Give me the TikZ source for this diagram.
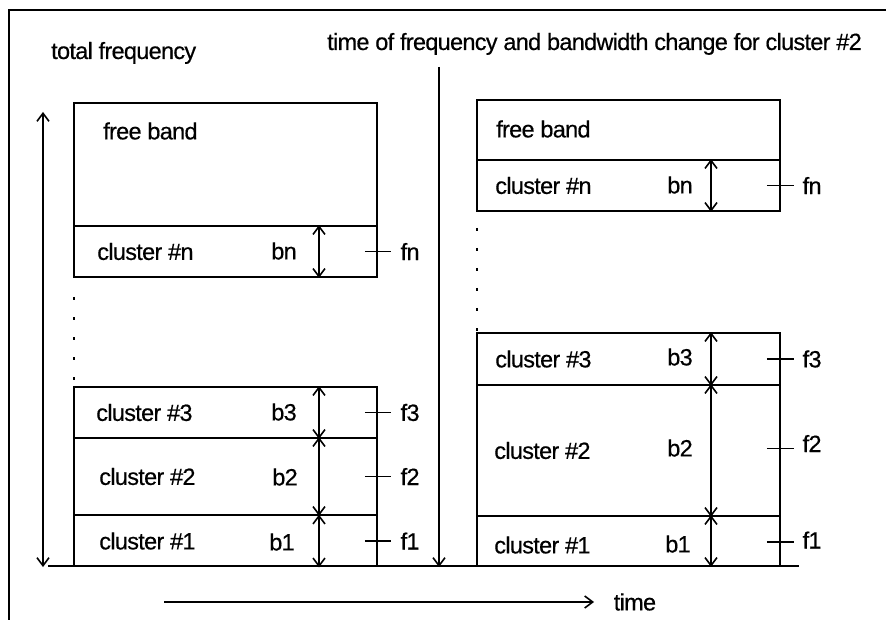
\documentclass[tikz,border=0pt]{standalone}
\usepackage{fontspec}
\setmainfont{Liberation Sans}[LetterSpace=-3, FakeBold=0.5]
\usetikzlibrary{arrows.meta,positioning}

\begin{document}
\begin{tikzpicture}[
  x=1pt, y=-1pt,
  font=\fontsize{23.5}{27}\selectfont,
  >={Straight Barb[length=8pt,width=12pt]},
  band/.style={rectangle, draw, line width=1.8pt, minimum width=303pt, inner sep=0pt},
  txt/.style={inner sep=0pt, anchor=west},
  blbl/.style={inner sep=0pt},
  bw/.style={<->, line width=1.6pt},
  tick/.style={line width=1.5pt},
  axis/.style={line width=1.6pt},
  dots/.style={line width=1.2pt, dash pattern=on 3pt off 17pt},
]
\useasboundingbox (0,0) rectangle (886,620);

% frame
\draw[line width=2.6pt] (9,620) -- (9,10) -- (886,10);

\node[anchor=base west, inner sep=0pt] (ttot) at (51,59) {total frequency};
\node[anchor=base west, inner sep=0pt] (tchg) at (327,50) {time of frequency and bandwidth change for cluster \#2};

% before the change
\node[band, minimum height=123pt] (lfree) at (225.5,164.5) {};
\node[band, minimum height=51pt]  (ln)    at (225.5,251.5) {};
\node[band, minimum height=51pt]  (l3)    at (225.5,412.5) {};
\node[band, minimum height=77pt]  (l2)    at (225.5,476.5) {};
\node[band, minimum height=51pt]  (l1)    at (225.5,541) {};

\node[txt] (lfreet) at (103,131) {free band};
\node[txt, right=24pt of ln.west] (lnt) {cluster \#n};
\node[txt, right=23pt of l3.west] (l3t) {cluster \#3};
\node[txt, right=26pt of l2.west] (l2t) {cluster \#2};
\node[txt, right=26pt of l1.west] (l1t) {cluster \#1};

\coordinate (bl) at (319,0);
\node[blbl] (lbn) at (284,251) {bn};
\node[blbl] (lb3) at (284,412) {b3};
\node[blbl] (lb2) at (285,477) {b2};
\node[blbl] (lb1) at (282,542) {b1};
\foreach \b in {ln,l3,l2,l1}
  \draw[bw] (bl |- \b.north) -- (bl |- \b.south);

\draw[tick] (ln.east) ++(-13,0) -- ++(26,0) node[txt, xshift=9pt] (lfn) {fn};
\draw[tick] (l3.east) ++(-13,0) -- ++(26,0) node[txt, xshift=9pt] (lf3) {f3};
\draw[tick] (l2.east) ++(-13,0) -- ++(26,0) node[txt, xshift=9pt] (lf2) {f2};
\draw[tick] (l1.east) ++(-13,0) -- ++(26,0) node[txt, xshift=9pt] (lf1) {f1};

\draw[dots] (74,297) -- (74,385);

% after the change
\node[band, minimum height=60pt]  (rfree) at (628.5,130) {};
\node[band, minimum height=51pt]  (rn)    at (628.5,185.5) {};
\node[band, minimum height=52pt]  (r3)    at (628.5,359) {};
\node[band, minimum height=131pt] (r2)    at (628.5,450.5) {};
\node[band, minimum height=50pt]  (r1)    at (628.5,541) {};

\node[txt] (rfreet) at (496,129) {free band};
\node[txt, right=19pt of rn.west] (rnt) {cluster \#n};
\node[txt, right=19pt of r3.west] (r3t) {cluster \#3};
\node[txt, right=18pt of r2.west] (r2t) {cluster \#2};
\node[txt, right=18pt of r1.west, yshift=-4pt] (r1t) {cluster \#1};

\coordinate (br) at (711,0);
\node[blbl] (rbn) at (680,185) {bn};
\node[blbl] (rb3) at (680,357) {b3};
\node[blbl] (rb2) at (680,448) {b2};
\node[blbl] (rb1) at (678,544) {b1};
\foreach \b in {rn,r3,r2,r1}
  \draw[bw] (br |- \b.north) -- (br |- \b.south);

\draw[tick] (rn.east) ++(-14,0) -- ++(27,0) node[txt, xshift=8pt] (rfn) {fn};
\draw[tick] (r3.east) ++(-14,0) -- ++(27,0) node[txt, xshift=8pt] (rf3) {f3};
\draw[tick] (r2.east) ++(-14,-2) -- ++(27,0) node[txt, xshift=8pt, yshift=5pt] (rf2) {f2};
\draw[tick] (r1.east) ++(-14,1) -- ++(27,0) node[txt, xshift=8pt, yshift=2pt] (rf1) {f1};

\draw[dots] (477,228) -- (477,333);

% axes
\coordinate (ftop) at (43,112);
\coordinate (fbot) at (43,567);
\draw[axis, <->] (fbot) -- (ftop);

\coordinate (ctop) at (439,67);
\coordinate (cbot) at (439,567);
\draw[axis, ->] (ctop) -- (cbot);

\coordinate (g0) at (48,566);
\coordinate (g1) at (799,566);
\draw[axis] (g0) -- (g1);

\coordinate (t0) at (164,602);
\coordinate (t1) at (594,602);
\draw[axis, ->] (t0) -- (t1) node[txt, xshift=19pt] (tm) {time};

\end{tikzpicture}
\end{document}
